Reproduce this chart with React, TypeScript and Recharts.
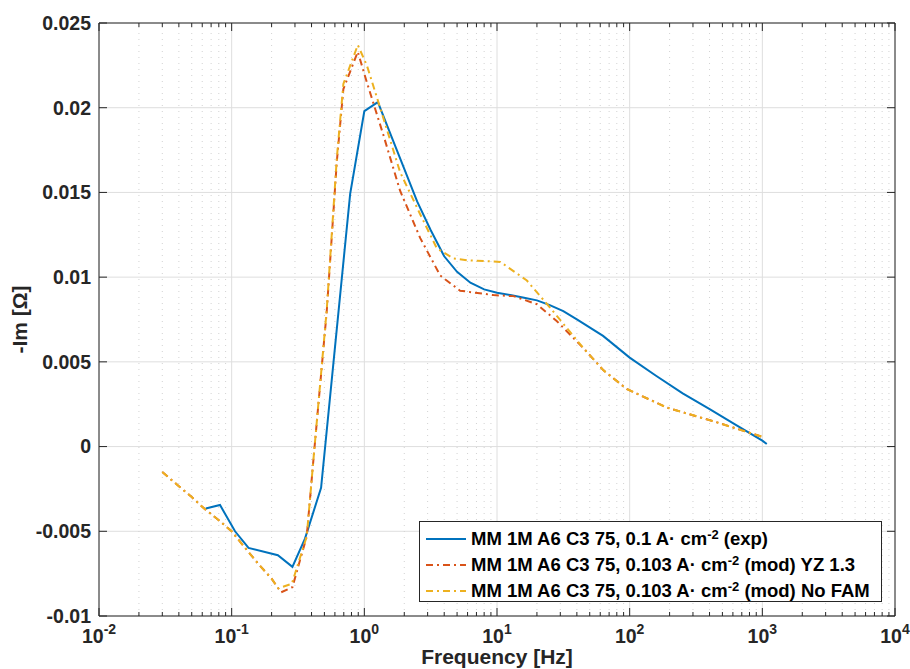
import React from 'react';
import { LineChart, Line, XAxis, YAxis, CartesianGrid, ReferenceLine, Legend } from 'recharts';

// measured data (-Im vs frequency)
const expFreq = [0.0638, 0.0817, 0.106, 0.134, 0.223, 0.287, 0.357, 0.472, 0.782, 1.0, 1.265, 1.58, 2.0, 2.5, 3.16, 4.0, 5.0, 6.3, 8.0, 10, 12.6, 16, 20, 25, 31.6, 40, 63, 100, 158, 251, 398, 631, 1000, 1080];
const expIm = [-0.00366, -0.00345, -0.005, -0.00598, -0.00641, -0.0071, -0.00543, -0.00243, 0.01492, 0.0198, 0.02033, 0.01841, 0.01639, 0.01447, 0.01278, 0.01123, 0.01031, 0.00967, 0.00928, 0.00908, 0.00894, 0.00878, 0.00863, 0.00835, 0.008, 0.00751, 0.00653, 0.00525, 0.00418, 0.00314, 0.00222, 0.00128, 0.00035, 0.00015];

// model YZ 1.3
const yzFreq = [0.03, 0.04, 0.05, 0.063, 0.08, 0.1, 0.126, 0.158, 0.2, 0.236, 0.287, 0.368, 0.413, 0.521, 0.62, 0.695, 0.893, 1.045, 1.39, 1.86, 2.64, 3.73, 5.27, 9.4, 13.3, 20, 28.3, 44.9, 63.5, 95, 191, 455, 1023];
const yzIm = [-0.0015, -0.00234, -0.00298, -0.0037, -0.00435, -0.005, -0.00597, -0.0069, -0.0078, -0.0086, -0.0083, -0.0053, -0.0008, 0.008, 0.0168, 0.0211, 0.0233, 0.0215, 0.0184, 0.0151, 0.0123, 0.0101, 0.0092, 0.00894, 0.00888, 0.0084, 0.0074, 0.0058, 0.0045, 0.0034, 0.0023, 0.00143, 0.00055];

// model No FAM
const nofamFreq = [0.03, 0.04, 0.05, 0.063, 0.08, 0.1, 0.126, 0.158, 0.2, 0.225, 0.284, 0.368, 0.413, 0.521, 0.62, 0.695, 0.893, 1.045, 1.39, 1.86, 2.64, 3.52, 4.7, 5.93, 10.6, 16.8, 25.1, 44.9, 63.5, 95, 191, 455, 1023];
const nofamIm = [-0.0015, -0.00234, -0.00298, -0.0037, -0.00435, -0.005, -0.00597, -0.0069, -0.0078, -0.00837, -0.0081, -0.0053, -0.0008, 0.0081, 0.017, 0.0214, 0.0237, 0.0225, 0.0194, 0.0162, 0.0137, 0.0117, 0.0111, 0.011, 0.0109, 0.0098, 0.0082, 0.0058, 0.0045, 0.0034, 0.0023, 0.00143, 0.00055];

const xMajorTicks = [0.01, 0.1, 1, 10, 100, 1000, 10000];
const xMajorExp = ['-2', '-1', '0', '1', '2', '3', '4'];
const yTicks = [-0.01, -0.005, 0, 0.005, 0.01, 0.015, 0.02, 0.025];
const yTickLabels = ['-0.01', '-0.005', '0', '0.005', '0.01', '0.015', '0.02', '0.025'];

const legendPrefix = ['MM 1M A6 C3 75, 0.1 A\u00b7 cm', 'MM 1M A6 C3 75, 0.103 A\u00b7 cm', 'MM 1M A6 C3 75, 0.103 A\u00b7 cm'];
const legendSuffix = [' (exp)', ' (mod) YZ 1.3', ' (mod) No FAM'];

const FONT = '"Liberation Sans", Arial, Helvetica, sans-serif';
const AXIS = '#262626';

const toRows = (f: number[], v: number[]) => f.map((x, i) => ({ f: x, im: v[i] }));

const series = [
  { key: 'exp', data: toRows(expFreq, expIm), color: '#0072BD', dash: undefined as string | undefined },
  { key: 'yz', data: toRows(yzFreq, yzIm), color: '#D95319', dash: '7 4 2 4' },
  { key: 'nofam', data: toRows(nofamFreq, nofamIm), color: '#EDB120', dash: '7 4 2 4' },
];

const xMinorTicks = xMajorTicks
  .slice(0, -1)
  .flatMap((d) => [2, 3, 4, 5, 6, 7, 8, 9].map((m) => +(m * d).toPrecision(3)));
const xAllTicks = [...xMajorTicks, ...xMinorTicks].sort((a, b) => a - b);

function BottomTick({ x, y, payload }: any) {
  const i = xMajorTicks.indexOf(payload.value);
  const major = i >= 0;
  return (
    <g>
      <line x1={x} x2={x} y1={y} y2={y - (major ? 8 : 4)} stroke={AXIS} />
      {major && (
        <text x={x} y={y + 27} textAnchor="middle" fontFamily={FONT} fontWeight="bold" fontSize={19.5} fill={AXIS}>
          10<tspan dy={-9} fontSize={14}>{xMajorExp[i]}</tspan>
        </text>
      )}
    </g>
  );
}

function TopTick({ x, y, payload }: any) {
  const major = xMajorTicks.indexOf(payload.value) >= 0;
  return <line x1={x} x2={x} y1={y} y2={y + (major ? 8 : 4)} stroke={AXIS} />;
}

function LeftTick({ x, y, payload }: any) {
  const i = yTicks.indexOf(payload.value);
  return (
    <g>
      <line x1={x} x2={x + 8} y1={y} y2={y} stroke={AXIS} />
      <text x={x - 8} y={y} dy="0.35em" textAnchor="end" fontFamily={FONT} fontWeight="bold" fontSize={19.5} fill={AXIS}>
        {yTickLabels[i]}
      </text>
    </g>
  );
}

function RightTick({ x, y }: any) {
  return <line x1={x} x2={x - 8} y1={y} y2={y} stroke={AXIS} />;
}

function LegendBox() {
  return (
    <div
      style={{
        width: 463,
        height: 81,
        boxSizing: 'border-box',
        border: `1px solid ${AXIS}`,
        background: '#fff',
        paddingTop: 4,
        fontFamily: FONT,
        fontWeight: 'bold',
        fontSize: 18.5,
        color: '#000',
      }}
    >
      {series.map((s, i) => (
        <div key={s.key} style={{ display: 'flex', alignItems: 'center', height: 26 }}>
          <svg width={51} height={10} style={{ flex: 'none' }}>
            <line x1={6} x2={46} y1={5} y2={5} stroke={s.color} strokeWidth={2} strokeDasharray={s.dash} />
          </svg>
          <span style={{ whiteSpace: 'nowrap', lineHeight: '26px' }}>
            {legendPrefix[i]}
            <sup style={{ fontSize: 13, lineHeight: 0, verticalAlign: '0.45em' }}>-2</sup>
            {legendSuffix[i]}
          </span>
        </div>
      ))}
    </div>
  );
}

const xLabel = ({ viewBox }: any) => (
  <text
    x={viewBox.x + viewBox.width / 2}
    y={viewBox.y + 48}
    textAnchor="middle"
    fontFamily={FONT}
    fontWeight="bold"
    fontSize={21}
    fill={AXIS}
  >
    Frequency [Hz]
  </text>
);

const yLabel = ({ viewBox }: any) => {
  const cy = viewBox.y + viewBox.height / 2;
  return (
    <text
      x={27}
      y={cy}
      transform={`rotate(-90 27 ${cy})`}
      textAnchor="middle"
      fontFamily={FONT}
      fontWeight="bold"
      fontSize={21}
      fill={AXIS}
    >
      -Im [Ω]
    </text>
  );
};

export default function App() {
  return (
    <div style={{ position: 'absolute', left: 0, top: 0, width: 910, height: 669, background: '#fff' }}>
      <LineChart width={910} height={669} margin={{ top: 13, right: 5, bottom: 23, left: 39 }}>
        <CartesianGrid vertical={false} stroke="#dedede" />
        {xMinorTicks.map((v) => (
          <ReferenceLine key={'m' + v} x={v} stroke="#d2d2d2" strokeDasharray="1 5" />
        ))}
        {xMajorTicks.map((v) => (
          <ReferenceLine key={'M' + v} x={v} stroke="#dedede" />
        ))}
        <XAxis
          dataKey="f"
          type="number"
          scale="log"
          domain={[0.01, 10000]}
          ticks={xAllTicks}
          interval={0}
          allowDataOverflow
          height={30}
          tickSize={0}
          tickMargin={0}
          tickLine={false}
          axisLine={{ stroke: AXIS }}
          tick={<BottomTick />}
          label={{ content: xLabel }}
        />
        <XAxis
          xAxisId="top"
          orientation="top"
          dataKey="f"
          type="number"
          scale="log"
          domain={[0.01, 10000]}
          ticks={xAllTicks}
          interval={0}
          allowDataOverflow
          height={10}
          tickSize={0}
          tickMargin={0}
          tickLine={false}
          axisLine={{ stroke: AXIS }}
          tick={<TopTick />}
        />
        <YAxis
          type="number"
          domain={[-0.01, 0.025]}
          ticks={yTicks}
          interval={0}
          allowDataOverflow
          width={60}
          tickSize={0}
          tickMargin={0}
          tickLine={false}
          axisLine={{ stroke: AXIS }}
          tick={<LeftTick />}
          label={{ content: yLabel }}
        />
        <YAxis
          yAxisId="right"
          orientation="right"
          type="number"
          domain={[-0.01, 0.025]}
          ticks={yTicks}
          interval={0}
          allowDataOverflow
          width={10}
          tickSize={0}
          tickMargin={0}
          tickLine={false}
          axisLine={{ stroke: AXIS }}
          tick={<RightTick />}
        />
        {series.map((s) => (
          <Line
            key={s.key}
            data={s.data}
            dataKey="im"
            type="linear"
            stroke={s.color}
            strokeWidth={2}
            strokeDasharray={s.dash}
            dot={false}
            activeDot={false}
            isAnimationActive={false}
          />
        ))}
        <Legend
          layout="vertical"
          align="center"
          verticalAlign="middle"
          wrapperStyle={{ left: 419, top: 521, width: 463, height: 81 }}
          content={() => <LegendBox />}
        />
      </LineChart>
    </div>
  );
}
